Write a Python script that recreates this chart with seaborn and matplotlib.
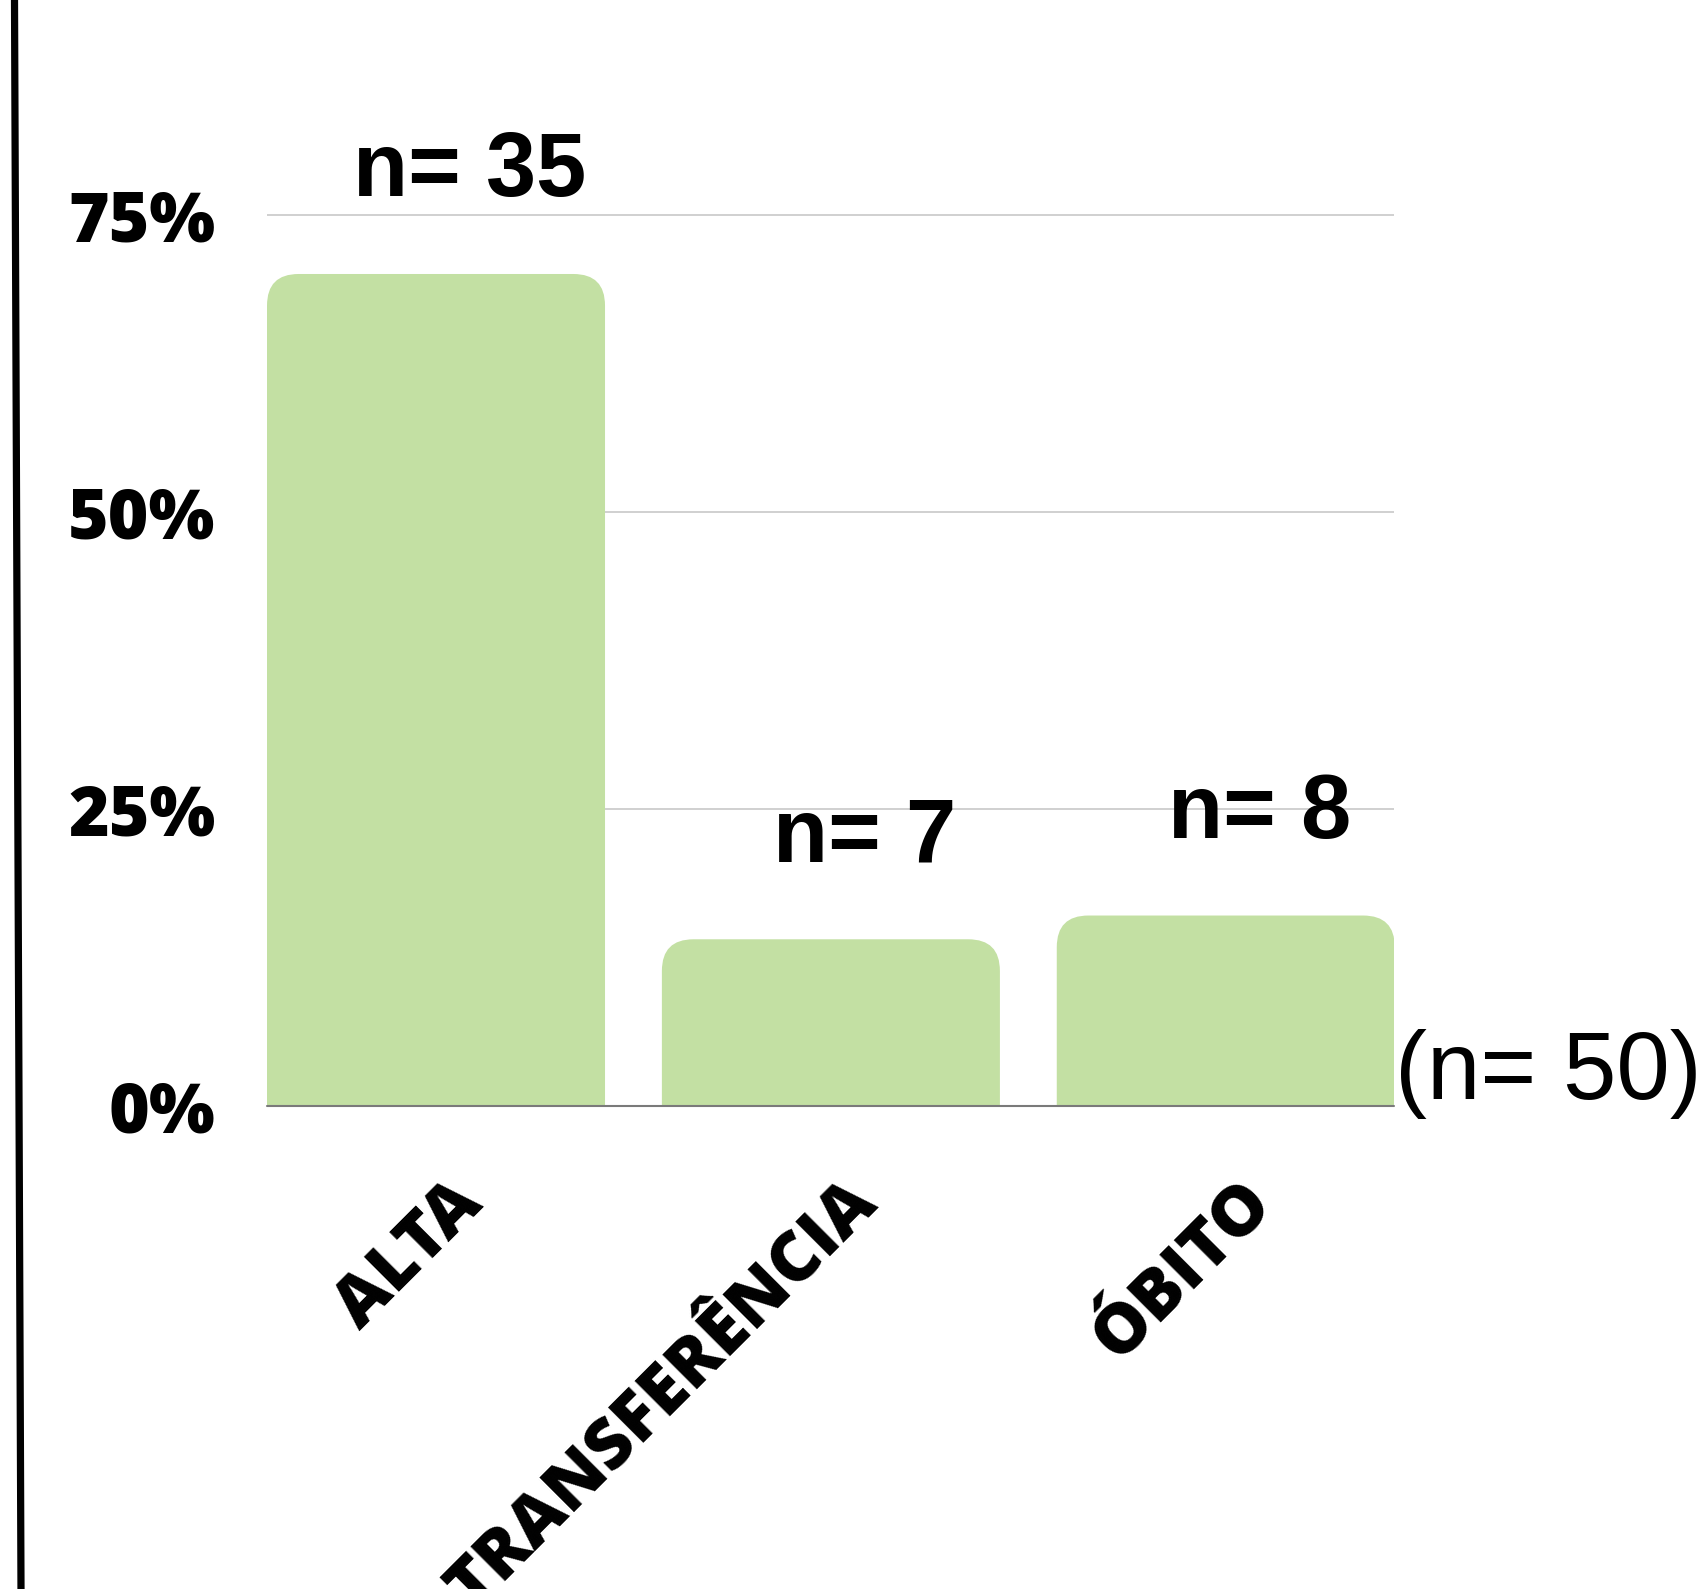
import matplotlib
matplotlib.use("Agg")
import matplotlib.pyplot as plt
import seaborn as sns
import pandas as pd
from matplotlib.patches import FancyBboxPatch
from matplotlib.lines import Line2D
from matplotlib.ticker import PercentFormatter
from matplotlib.transforms import ScaledTranslation

# ---- data ----
categories = ["ALTA", "TRANSFERÊNCIA", "ÓBITO"]
shares = [0.70, 0.14, 0.16]
counts = [35, 7, 8]
total_label = "(n= 50)"
y_ticks = [0, 0.25, 0.50, 0.75]

df = pd.DataFrame({"cat": categories, "share": shares})

sns.set_theme(style="white")
plt.rcParams["font.family"] = ["Open Sans", "DejaVu Sans"]

W, H, DPI = 1708, 1589, 100
fig = plt.figure(figsize=(W / DPI, H / DPI), dpi=DPI)
ax = fig.add_axes([267 / W, 1 - 1105.6 / H, (1394 - 267) / W, 0.6355])

bar_color = "#c3e0a3"
sns.barplot(data=df, x="cat", y="share", color=bar_color, width=0.856,
            saturation=1, ax=ax, zorder=2)

ax.set_xlim(-0.428, 2.426)
ax.set_ylim(0, 0.85)

# rounded top corners: replace the bars with rounded boxes of same geometry
aspect = (395.0) / (297.0 / 0.25)
rs = 0.08
for p in list(ax.patches):
    x0, w, h = p.get_x(), p.get_width(), p.get_height()
    ext = rs * aspect * 1.2
    fb = FancyBboxPatch((x0, -ext), w, h + ext,
                        boxstyle=f"round,pad=0,rounding_size={rs}",
                        mutation_aspect=aspect, facecolor=bar_color,
                        edgecolor="none", zorder=2)
    p.remove()
    ax.add_patch(fb)

ax.set_yticks(y_ticks)
ax.yaxis.set_major_formatter(PercentFormatter(1.0, decimals=0))
ax.grid(axis="y", color="#c4c4c4", linewidth=1.1)
ax.grid(axis="x", visible=False)
ax.set_axisbelow(True)
ax.axhline(0, color="#7a7a7a", linewidth=1.5, zorder=4, clip_on=False)

for s in ax.spines.values():
    s.set_visible(False)
ax.set_xlabel("")
ax.set_ylabel("")
ax.tick_params(axis="y", length=0, pad=37, labelsize=50)
ax.tick_params(axis="x", length=0, pad=63, labelsize=50)
for lab in ax.get_yticklabels():
    lab.set_fontweight(800)
    lab.set_color("black")
off = ScaledTranslation(36 / DPI, 0, fig.dpi_scale_trans)
for lab in ax.get_xticklabels():
    lab.set_fontweight(800)
    lab.set_color("black")
    lab.set_rotation(45)
    lab.set_ha("right")
    lab.set_va("center")
    lab.set_rotation_mode("anchor")
    lab.set_transform(lab.get_transform() + off)

# count labels above bars
for i, (v, n) in enumerate(zip(shares, counts)):
    ax.text(i + 0.085, v + 0.0655, f"n= {n}", ha="center", va="baseline",
            fontsize=65, fontweight="bold",
            family=["Liberation Sans", "DejaVu Sans"], color="black", zorder=5)

fig.text(1395 / W, 1 - 1099 / H, total_label, ha="left", va="baseline",
         fontsize=69, family=["Liberation Sans", "DejaVu Sans"], color="black")

# left vertical rule
fig.add_artist(Line2D([14.5 / W, 21 / W], [1, 0], transform=fig.transFigure,
                      color="black", linewidth=5.2))

fig.savefig("out.png", dpi=DPI, facecolor="white")
